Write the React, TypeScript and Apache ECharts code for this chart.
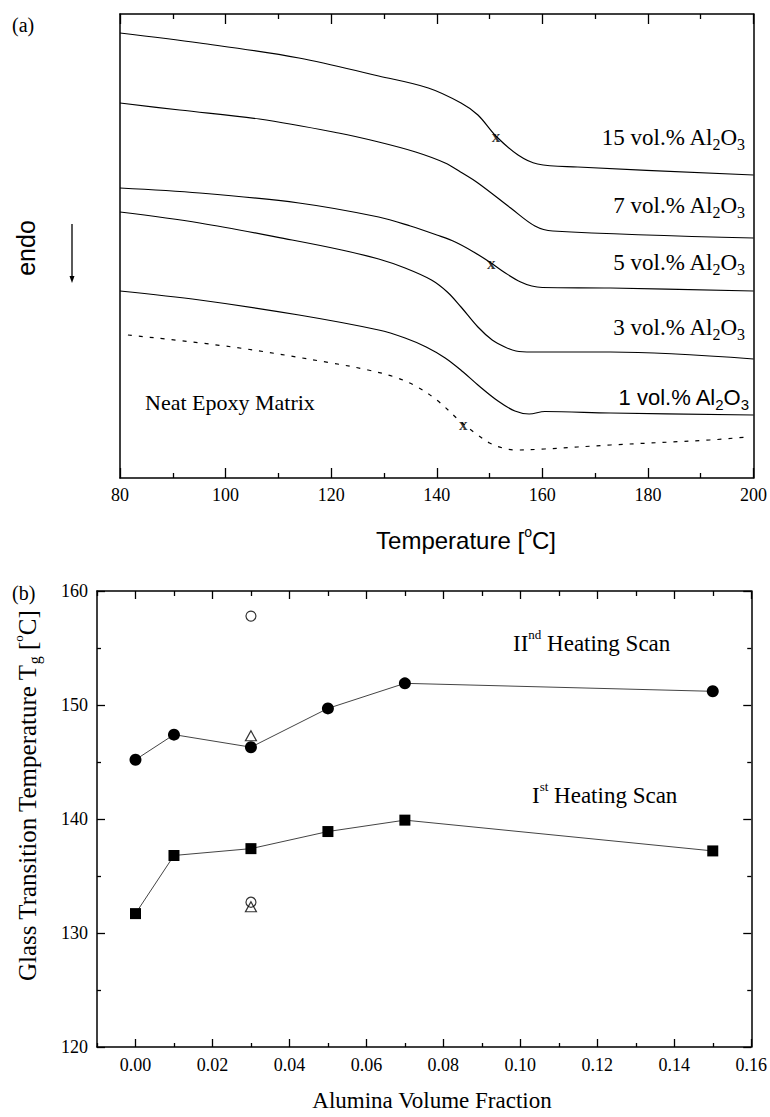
import React, { useEffect, useRef } from 'react';
import * as echarts from 'echarts';

const SERIF = '"Liberation Serif", "Times New Roman", serif';
const SANS = '"Liberation Sans", Arial, sans-serif';

// ---------- Panel (a): DSC traces (temperature °C, heat flow in arbitrary units, endo down) ----------
const trace15: number[][] = [[80, 445], [95.1, 435], [113.9, 420], [129, 402], [138.4, 390], [144.6, 375], [147.8, 363], [151.2, 342], [155.4, 323], [159.1, 314], [166.7, 311], [200, 303]];
const trace7: number[][] = [[80, 375], [91.3, 368], [106.4, 359], [121.4, 345], [129, 336], [136, 326], [141.6, 315], [144.5, 306], [147.8, 295], [154, 270], [158.6, 252], [162, 247], [200, 240]];
const trace5: number[][] = [[80, 290], [95.1, 285], [113.9, 275], [129, 261], [135, 252], [140, 243], [143.5, 236], [147, 226], [150.3, 215], [153, 205], [155.9, 196], [158, 192], [160, 190.5], [172.9, 190], [200, 187]];
const trace3: number[][] = [[80, 266], [95.1, 255], [112.6, 238], [122, 228], [129, 219], [134, 210], [139, 198], [142, 186], [144.6, 171], [147.8, 151], [150.5, 138], [152.9, 131], [155, 127], [158, 126], [172.9, 126], [200, 119]];
const trace1: number[][] = [[80, 187], [95.1, 178], [113.9, 163], [129, 148], [134, 140], [138, 131], [141.6, 120], [145, 106], [147.8, 93], [151.6, 77], [154.8, 67], [157.5, 64], [160.5, 66.5], [172.9, 65], [200, 63]];
const traceNeat: number[][] = [[81.5, 143], [101.3, 131], [120.1, 115], [127, 108], [132, 101], [136, 92], [140, 78], [144.6, 56], [147.5, 44], [150, 35], [152.5, 30], [155, 28], [160.4, 29], [172.9, 33], [191.7, 38], [198.7, 41]];
const tgMarks: number[][] = [[151.2, 342], [150.3, 215], [145, 54]];

// ---------- Panel (b): Tg vs alumina volume fraction ----------
const fractions = [0, 0.01, 0.03, 0.05, 0.07, 0.15];
const tg2nd = [145.2, 147.4, 146.3, 149.7, 151.9, 151.2];
const tg1st = [131.7, 136.8, 137.4, 138.9, 139.9, 137.2];
const openCircles: number[][] = [[0.03, 157.8], [0.03, 132.7]];
const openTriangles: number[][] = [[0.03, 147.3], [0.03, 132.3]];
const fracMajorTicks = [0, 0.02, 0.04, 0.06, 0.08, 0.1, 0.12, 0.14, 0.16];
const fracMinorTicks = [-0.01, 0.01, 0.03, 0.05, 0.07, 0.09, 0.11, 0.13, 0.15];

const sub = { fontSize: 16, lineHeight: 8, verticalAlign: 'bottom' as const, fontFamily: SERIF };
const subSans = { fontSize: 15, lineHeight: 8, verticalAlign: 'bottom' as const, fontFamily: SANS };
const supSerif = { fontSize: 13, lineHeight: 10, verticalAlign: 'top' as const, fontFamily: SERIF };
const supSans = { fontSize: 14, lineHeight: 10, verticalAlign: 'top' as const, fontFamily: SANS };

function volLabel(text: string, x: number, y: number, sans = false) {
  return {
    type: 'text',
    x,
    y,
    style: {
      text: text + ' Al{s|2}O{s|3}',
      fontFamily: sans ? SANS : SERIF,
      fontSize: sans ? 22 : 23,
      lineHeight: 30,
      fill: '#000',
      align: 'right',
      verticalAlign: 'middle',
      rich: { s: sans ? subSans : sub },
    },
  };
}

const axisLineStyle = { color: '#000', width: 1.5 };
const tickLine = { color: '#000', width: 1.3 };

export default function App() {
  const ref = useRef<HTMLDivElement>(null);
  useEffect(() => {
    if (!ref.current) return;
    const chart = echarts.init(ref.current, undefined, { renderer: 'svg' });
    const traceSeries = (data: number[][], dashed = false) => ({
      type: 'line',
      xAxisIndex: 0,
      yAxisIndex: 0,
      data,
      smooth: 0.35,
      symbol: 'none',
      lineStyle: { color: '#000', width: 1.2, type: dashed ? [4, 7] : 'solid' },
      silent: true,
    });
    const option: any = {
      animation: false,
      backgroundColor: '#fff',
      grid: [
        { left: 120, top: 14, width: 637, height: 464 },
        { left: 97, top: 591, width: 656, height: 456 },
      ],
      xAxis: [
        {
          gridIndex: 0, type: 'value', position: 'bottom', min: 80, max: 200, interval: 20,
          axisLine: { onZero: false, lineStyle: axisLineStyle },
          axisTick: { inside: true, length: 10, lineStyle: tickLine },
          minorTick: { show: true, splitNumber: 2, length: 5, lineStyle: tickLine },
          axisLabel: { fontFamily: SERIF, fontSize: 18, color: '#000', margin: 8 },
          splitLine: { show: false },
        },
        {
          gridIndex: 0, type: 'value', position: 'top', min: 80, max: 200, interval: 20,
          axisLine: { onZero: false, lineStyle: axisLineStyle },
          axisTick: { inside: true, length: 10, lineStyle: tickLine },
          minorTick: { show: true, splitNumber: 2, length: 5, lineStyle: tickLine },
          axisLabel: { show: false },
          splitLine: { show: false },
        },
        {
          gridIndex: 1, type: 'value', position: 'bottom', min: -0.01, max: 0.16,
          axisLine: { onZero: false, lineStyle: axisLineStyle },
          axisTick: { inside: true, length: 8, customValues: fracMajorTicks, lineStyle: tickLine },
          axisLabel: { customValues: fracMajorTicks, fontFamily: SERIF, fontSize: 18, color: '#000', margin: 9, formatter: (v: number) => v.toFixed(2) },
          splitLine: { show: false },
        },
        {
          gridIndex: 1, type: 'value', position: 'bottom', min: -0.01, max: 0.16,
          axisLine: { show: false, onZero: false },
          axisTick: { inside: true, length: 4, customValues: fracMinorTicks, lineStyle: tickLine },
          axisLabel: { show: false },
          splitLine: { show: false },
        },
        {
          gridIndex: 1, type: 'value', position: 'top', min: -0.01, max: 0.16,
          axisLine: { onZero: false, lineStyle: axisLineStyle },
          axisTick: { inside: true, length: 8, customValues: fracMajorTicks, lineStyle: tickLine },
          axisLabel: { show: false },
          splitLine: { show: false },
        },
        {
          gridIndex: 1, type: 'value', position: 'top', min: -0.01, max: 0.16,
          axisLine: { show: false, onZero: false },
          axisTick: { inside: true, length: 5, customValues: fracMinorTicks, lineStyle: tickLine },
          axisLabel: { show: false },
          splitLine: { show: false },
        },
      ],
      yAxis: [
        {
          gridIndex: 0, type: 'value', position: 'left', min: 0, max: 464,
          axisLine: { show: true, onZero: false, lineStyle: axisLineStyle },
          axisTick: { show: false }, axisLabel: { show: false }, splitLine: { show: false },
        },
        {
          gridIndex: 0, type: 'value', position: 'right', min: 0, max: 464,
          axisLine: { show: true, onZero: false, lineStyle: axisLineStyle },
          axisTick: { show: false }, axisLabel: { show: false }, splitLine: { show: false },
        },
        {
          gridIndex: 1, type: 'value', position: 'left', min: 120, max: 160, interval: 10,
          axisLine: { show: true, onZero: false, lineStyle: axisLineStyle },
          axisTick: { show: true, inside: true, length: 8, lineStyle: tickLine },
          minorTick: { show: true, splitNumber: 2, length: 4, lineStyle: tickLine },
          axisLabel: { fontFamily: SERIF, fontSize: 18, color: '#000', margin: 9 },
          splitLine: { show: false },
        },
        {
          gridIndex: 1, type: 'value', position: 'right', min: 120, max: 160, interval: 10,
          axisLine: { show: true, onZero: false, lineStyle: axisLineStyle },
          axisTick: { show: true, inside: true, length: 8, lineStyle: tickLine },
          minorTick: { show: true, splitNumber: 2, length: 4, lineStyle: tickLine },
          axisLabel: { show: false },
          splitLine: { show: false },
        },
      ],
      series: [
        traceSeries(trace15),
        traceSeries(trace7),
        traceSeries(trace5),
        traceSeries(trace3),
        traceSeries(trace1),
        traceSeries(traceNeat, true),
        {
          type: 'scatter', xAxisIndex: 0, yAxisIndex: 0, data: tgMarks,
          symbol: 'circle', symbolSize: 2, itemStyle: { color: 'rgba(0,0,0,0)' },
          label: {
            show: true, position: 'inside', formatter: () => 'x', fontFamily: SERIF, fontWeight: 'bold', fontSize: 17,
            color: '#000', textBorderWidth: 0, textBorderColor: 'transparent', offset: [0, -2],
          },
          labelLayout: { hideOverlap: false },
          silent: true,
        },
        {
          type: 'line', xAxisIndex: 2, yAxisIndex: 2,
          data: fractions.map((f, i) => [f, tg2nd[i]]),
          symbol: 'circle', symbolSize: 12,
          itemStyle: { color: '#000' },
          lineStyle: { color: '#444', width: 1 },
        },
        {
          type: 'line', xAxisIndex: 2, yAxisIndex: 2,
          data: fractions.map((f, i) => [f, tg1st[i]]),
          symbol: 'rect', symbolSize: 11,
          itemStyle: { color: '#000' },
          lineStyle: { color: '#444', width: 1 },
        },
        {
          type: 'scatter', xAxisIndex: 2, yAxisIndex: 2, data: openTriangles,
          symbol: 'triangle', symbolSize: [11, 10],
          itemStyle: { color: '#fff', borderColor: '#000', borderWidth: 1.2 },
        },
        {
          type: 'scatter', xAxisIndex: 2, yAxisIndex: 2, data: openCircles,
          symbol: 'circle', symbolSize: 10,
          itemStyle: { color: 'rgba(255,255,255,0)', borderColor: '#000', borderWidth: 1.2 },
        },
      ],
      graphic: [
        { type: 'text', x: 12, y: 25, style: { text: '(a)', fontFamily: SERIF, fontSize: 20, fill: '#000', align: 'left', verticalAlign: 'middle' } },
        { type: 'text', x: 12, y: 593, style: { text: '(b)', fontFamily: SERIF, fontSize: 20, fill: '#000', align: 'left', verticalAlign: 'middle' } },
        volLabel('15 vol.%', 745, 137),
        volLabel('7 vol.%', 745, 205),
        volLabel('5 vol.%', 745, 262),
        volLabel('3 vol.%', 745, 327),
        volLabel('1 vol.%', 749, 397, true),
        { type: 'text', x: 145, y: 402, style: { text: 'Neat Epoxy Matrix', fontFamily: SERIF, fontSize: 22, fill: '#000', align: 'left', verticalAlign: 'middle' } },
        { type: 'text', x: 26, y: 248, rotation: Math.PI / 2, style: { text: 'endo', fontFamily: SANS, fontSize: 25, fill: '#000', align: 'center', verticalAlign: 'middle' } },
        { type: 'line', shape: { x1: 72, y1: 224, x2: 72, y2: 278 }, style: { stroke: '#000', lineWidth: 1.3 } },
        { type: 'polygon', shape: { points: [[69.5, 276], [74.5, 276], [72, 283]] }, style: { fill: '#000' } },
        {
          type: 'text', x: 466, y: 540,
          style: { text: 'Temperature [{p|o}C]', fontFamily: SANS, fontSize: 24, lineHeight: 30, fill: '#000', align: 'center', verticalAlign: 'middle', rich: { p: supSans } },
        },
        {
          type: 'text', x: 513, y: 643,
          style: { text: 'II{p|nd} Heating Scan', fontFamily: SERIF, fontSize: 23, lineHeight: 30, fill: '#000', align: 'left', verticalAlign: 'middle', rich: { p: supSerif } },
        },
        {
          type: 'text', x: 532, y: 795,
          style: { text: 'I{p|st} Heating Scan', fontFamily: SERIF, fontSize: 23, lineHeight: 30, fill: '#000', align: 'left', verticalAlign: 'middle', rich: { p: supSerif } },
        },
        {
          type: 'text', x: 27, y: 796, rotation: Math.PI / 2,
          style: { text: 'Glass Transition Temperature T{s|g} [{p|o}C]', fontFamily: SERIF, fontSize: 25, lineHeight: 30, fill: '#000', align: 'center', verticalAlign: 'middle', rich: { s: sub, p: supSerif } },
        },
        { type: 'text', x: 432, y: 1100, style: { text: 'Alumina Volume Fraction', fontFamily: SERIF, fontSize: 23, fill: '#000', align: 'center', verticalAlign: 'middle' } },
      ],
    };
    chart.setOption(option);
    return () => chart.dispose();
  }, []);
  return <div ref={ref} style={{ position: 'absolute', left: 0, top: 0, width: 770, height: 1117, background: '#fff' }} />;
}
